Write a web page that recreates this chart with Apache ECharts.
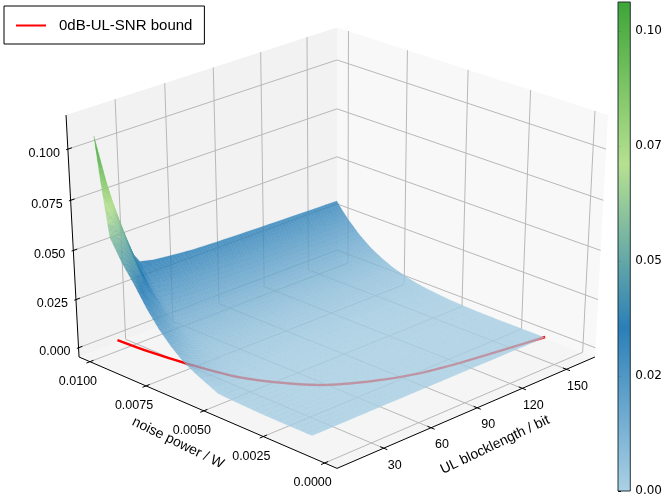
<!DOCTYPE html>
<html><head><meta charset="utf-8">
<style>html,body{margin:0;padding:0;background:#fff}#c{width:665px;height:500px}</style>
<script src="https://cdn.jsdelivr.net/npm/echarts@6/dist/echarts.min.js"></script>
</head><body><div id="c"></div>
<script>
// ---------- values ----------
const blocklengths=[10,13,16,19,22,26,30,34,42,52,67,82,102,132,162];
const noisePowers=[0.0011,0.002,0.003,0.004,0.005,0.006,0.0065,0.007,0.0075,0.008,0.0085,0.009,0.0095,0.0098,0.01];
const surfaceValues=[
[0,0,0,0,0,0,0,0,0,0,0,0,0,0,0],
[0,0,0,0,0,0,0,0,0,0,0,0,0,0,0],
[0.0001,0.0002,0.0002,0.0001,0.0001,0.0001,0.0001,0.0001,0.0001,0.0001,0,0,0,0,0],
[0.0004,0.0007,0.0006,0.0005,0.0004,0.0004,0.0003,0.0003,0.0003,0.0003,0.0002,0.0002,0.0002,0.0002,0.0002],
[0.001,0.0022,0.0019,0.0017,0.0015,0.0012,0.001,0.0009,0.0008,0.0008,0.0008,0.0008,0.0008,0.0007,0.0007],
[0.0067,0.006,0.0052,0.0046,0.004,0.0033,0.0027,0.0023,0.0022,0.0022,0.0021,0.0021,0.002,0.002,0.002],
[0.0103,0.0092,0.008,0.007,0.0061,0.0051,0.0041,0.0036,0.0034,0.0033,0.0032,0.0032,0.0031,0.0031,0.003],
[0.0154,0.0137,0.0119,0.0105,0.0092,0.0076,0.0061,0.0054,0.0051,0.005,0.0048,0.0047,0.0047,0.0046,0.0045],
[0.0217,0.0197,0.0174,0.0152,0.0133,0.011,0.0089,0.0078,0.0074,0.0072,0.007,0.0069,0.0068,0.0066,0.0065],
[0.0297,0.0273,0.0242,0.0216,0.0189,0.0156,0.0126,0.011,0.0105,0.0102,0.0099,0.0097,0.0096,0.0094,0.0093],
[0.0392,0.0367,0.0328,0.0295,0.0262,0.0216,0.0175,0.0153,0.0146,0.0142,0.0137,0.0135,0.0133,0.0131,0.0128],
[0.0477,0.0461,0.0426,0.0389,0.0357,0.0294,0.0238,0.0208,0.0199,0.0194,0.0187,0.0184,0.0181,0.0178,0.0175],
[0.0583,0.0583,0.0558,0.0518,0.0478,0.0394,0.0318,0.0279,0.0267,0.0259,0.025,0.0246,0.0243,0.0238,0.0234],
[0.0848,0.078,0.0705,0.0634,0.0565,0.0466,0.0377,0.033,0.0316,0.0307,0.0296,0.0292,0.0287,0.0282,0.0277],
[0.106,0.094,0.082,0.072,0.063,0.052,0.042,0.0368,0.0352,0.0342,0.033,0.0325,0.032,0.0314,0.0309]
];
const boundLength=[19.7,21.1,24.2,29.5,37.8,50.5,70.5,90.2,113,137.8,162.6];
const boundNoise=[0.0101,0.00875,0.00729,0.00571,0.00456,0.00343,0.00253,0.00197,0.00162,0.00136,0.00112];
const boundName='0dB-UL-SNR bound';
const noiseTicks=[0.01,0.0075,0.005,0.0025,0];
const noiseTickLabels=['0.0100','0.0075','0.0050','0.0025','0.0000'];
const lengthTicks=[30,60,90,120,150];
const lengthTickLabels=['30','60','90','120','150'];
const heightTicks=[0,0.025,0.05,0.075,0.1];
const heightTickLabels=['0.000','0.025','0.050','0.075','0.100'];
const colorbarTicks=[0,0.025,0.05,0.075,0.1];
const colorbarLabels=['0.00','0.02','0.05','0.07','0.10'];
const colorbarMax=0.1063;
const colorStops=['#a6cee3','#1f78b4','#b2df8a','#33a02c'];
const noiseTitle='noise power / W', lengthTitle='UL blocklength / bit';

// ---------- 3D view ----------
const X0=337,Y0=239,A=264.3,B=120.9,G=99.2,P=0.065,Q=0.0246;
const uOf=n=>0.045+91*n, vOf=L=>(L+1)*0.005926-0.012, zOf=h=>-0.92+16.5*h;
function proj(u,v,z){const r=v-u,c=1-u-v,d=1-P*c-Q*z;return [X0+A*r/d,Y0-(B*z-G*c)/d,d];}
const font='"Liberation Sans",Arial,sans-serif';
const hex=s=>[1,3,5].map(i=>parseInt(s.substr(i,2),16));
const rgbStops=colorStops.map(hex);
function colorOf(h){
  let t=Math.max(0,Math.min(1,h/colorbarMax))*(rgbStops.length-1);
  let i=Math.min(rgbStops.length-2,Math.floor(t)),f=t-i;
  const m=[0,1,2].map(k=>Math.round(rgbStops[i][k]+(rgbStops[i+1][k]-rgbStops[i][k])*f));
  return 'rgb('+m.join(',')+')';
}
// surface tiles: each table cell is shaded with a few sub-quads, painted far to near
const SUB=4,tiles=[];
for(let i=0;i<noisePowers.length-1;i++)for(let j=0;j<blocklengths.length-1;j++){
  const corner=(a,b)=>{
    const n=noisePowers[i]+(noisePowers[i+1]-noisePowers[i])*a;
    const L=blocklengths[j]+(blocklengths[j+1]-blocklengths[j])*b;
    const h=(surfaceValues[i][j]*(1-a)+surfaceValues[i+1][j]*a)*(1-b)+(surfaceValues[i][j+1]*(1-a)+surfaceValues[i+1][j+1]*a)*b;
    return {p:proj(uOf(n),vOf(L),zOf(h)),h};
  };
  for(let a=0;a<SUB;a++)for(let b=0;b<SUB;b++){
    const q=[corner(a/SUB,b/SUB),corner((a+1)/SUB,b/SUB),corner((a+1)/SUB,(b+1)/SUB),corner(a/SUB,(b+1)/SUB)];
    tiles.push({pts:q.map(o=>o.p.slice(0,2)),h:(q[0].h+q[1].h+q[2].h+q[3].h)/4,d:(q[0].p[2]+q[2].p[2])/2});
  }
}
tiles.sort((x,y)=>y.d-x.d);

const pxy=(u,v,z)=>proj(u,v,z).slice(0,2);
const boundPoints=boundLength.map((L,i)=>pxy(uOf(boundNoise[i]),vOf(L),zOf(0)));
const chart=echarts.init(document.getElementById('c'),null,{renderer:'canvas'});

function seg(api,a,b,stroke,w){
  const p=api.coord(a),q=api.coord(b);
  return {type:'line',shape:{x1:p[0],y1:p[1],x2:q[0],y2:q[1]},style:{stroke,lineWidth:w}};
}
function poly(api,pts,fill){return {type:'polygon',shape:{points:pts.map(p=>api.coord(p))},style:{fill}};}

function renderBack(params,api){
  const ch=[];
  ch.push(poly(api,[pxy(0,0,-1),pxy(1,0,-1),pxy(1,1,-1),pxy(0,1,-1)],'#f5f5f5'));
  ch.push(poly(api,[pxy(1,0,-1),pxy(1,1,-1),pxy(1,1,1),pxy(1,0,1)],'#f2f2f2'));
  ch.push(poly(api,[pxy(0,1,-1),pxy(1,1,-1),pxy(1,1,1),pxy(0,1,1)],'#f8f8f8'));
  const gc='#b8b8b8',gw=1;
  lengthTicks.forEach(L=>{const v=vOf(L);
    ch.push(seg(api,pxy(0,v,-1),pxy(1,v,-1),gc,gw));
    ch.push(seg(api,pxy(1,v,-1),pxy(1,v,1),gc,gw));});
  noiseTicks.forEach(n=>{const u=uOf(n);
    ch.push(seg(api,pxy(u,0,-1),pxy(u,1,-1),gc,gw));
    ch.push(seg(api,pxy(u,1,-1),pxy(u,1,1),gc,gw));});
  heightTicks.forEach(h=>{const z=zOf(h);
    ch.push(seg(api,pxy(1,0,z),pxy(1,1,z),gc,gw));
    ch.push(seg(api,pxy(0,1,z),pxy(1,1,z),gc,gw));});
  return {type:'group',children:ch};
}
function renderTile(params,api){
  const t=tiles[params.dataIndex],c=colorOf(t.h);
  return {type:'polygon',shape:{points:t.pts.map(p=>api.coord(p))},style:{fill:c,opacity:0.8,stroke:c,lineWidth:0.25}};
}
function label(api,pt,dx,dy,text,align){
  const p=api.coord(pt);
  return {type:'text',x:p[0]+dx,y:p[1]+dy,style:{text,fill:'#000',font:'12.5px '+font,textAlign:align||'center',textVerticalAlign:'middle'}};
}
function renderAxes(params,api){
  const ch=[],k='#000';
  ch.push(seg(api,pxy(1,0,-1),pxy(1,0,1),k,1));
  ch.push(seg(api,pxy(1,0,-1),pxy(0,0,-1),k,1));
  ch.push(seg(api,pxy(0,0,-1),pxy(0,1,-1),k,1));
  noiseTicks.forEach((n,i)=>{const u=uOf(n);
    ch.push(seg(api,pxy(u,-0.013,-1),pxy(u,0.013,-1),k,1));
    ch.push(label(api,pxy(u,0,-1),-12,20,noiseTickLabels[i]));});
  lengthTicks.forEach((L,i)=>{const v=vOf(L);
    ch.push(seg(api,pxy(-0.013,v,-1),pxy(0.013,v,-1),k,1));
    ch.push(label(api,pxy(0,v,-1),11,17,lengthTickLabels[i]));});
  heightTicks.forEach((h,i)=>{const z=zOf(h);
    ch.push(seg(api,pxy(1,-0.006,z),pxy(1,0.014,z),k,1));
    ch.push(label(api,pxy(1,0,z),-8,4,heightTickLabels[i],'right'));});
  const a=api.coord([178,443]),b=api.coord([495,445]);
  ch.push({type:'text',x:a[0],y:a[1],rotation:-26*Math.PI/180,style:{text:noiseTitle,fill:'#000',font:'14px '+font,textAlign:'center',textVerticalAlign:'middle'}});
  ch.push({type:'text',x:b[0],y:b[1],rotation:25.5*Math.PI/180,style:{text:lengthTitle,fill:'#000',font:'14px '+font,textAlign:'center',textVerticalAlign:'middle'}});
  return {type:'group',children:ch};
}
function renderBar(params,api){
  const p=api.coord([0,colorbarMax]),q=api.coord([1,0]);
  const n=rgbStops.length-1;
  return {type:'rect',shape:{x:p[0],y:p[1],width:q[0]-p[0],height:q[1]-p[1]},
    style:{fill:new echarts.graphic.LinearGradient(0,1,0,0,colorStops.map((c,i)=>({offset:i/n,color:c}))),stroke:'#1a2a30',lineWidth:1,opacity:0.95}};
}
chart.setOption({
  animation:false,
  grid:[{left:0,top:0,width:665,height:500,show:false},{left:618,top:2,width:14,height:489,show:false}],
  xAxis:[{type:'value',gridIndex:0,min:0,max:665,show:false},{type:'value',gridIndex:1,min:0,max:1,show:false}],
  yAxis:[{type:'value',gridIndex:0,min:0,max:500,inverse:true,show:false},
    {type:'value',gridIndex:1,min:0,max:colorbarMax,position:'right',splitLine:{show:false},
     axisLine:{show:false},
     axisTick:{show:true,length:3,lineStyle:{color:'#000',width:1},customValues:colorbarTicks},
     axisLabel:{show:true,margin:5,color:'#000',fontSize:12,fontFamily:'"DejaVu Sans"',customValues:colorbarTicks,
       formatter:v=>{const i=colorbarTicks.findIndex(t=>Math.abs(t-v)<1e-6);return i<0?'':colorbarLabels[i];}}}],
  legend:{show:true,left:4,top:6,data:[{name:boundName,icon:'rect'}],orient:'horizontal',padding:[12,12,11,12],borderColor:'#000',borderWidth:1,borderRadius:0,backgroundColor:'#fff',
    itemWidth:30,itemHeight:2,itemStyle:{color:'#ff0000',borderWidth:0},lineStyle:{width:0},textStyle:{fontFamily:font,fontSize:15,color:'#000',padding:[0,0,0,8]},selectedMode:false},
  series:[
    {type:'custom',xAxisIndex:0,yAxisIndex:0,z:1,silent:true,clip:false,renderItem:renderBack,data:[[0,0]],animation:false},
    {type:'line',name:boundName,xAxisIndex:0,yAxisIndex:0,z:2,silent:true,showSymbol:false,symbol:'none',smooth:0.3,
      lineStyle:{color:'#ff0000',width:2.4},itemStyle:{color:'#ff0000'},data:boundPoints,animation:false},
    {type:'custom',xAxisIndex:0,yAxisIndex:0,z:3,silent:true,clip:false,renderItem:renderTile,progressive:0,data:tiles.map((t,i)=>[i,t.h]),animation:false},
    {type:'line',xAxisIndex:0,yAxisIndex:0,z:4,silent:true,showSymbol:false,symbol:'none',smooth:0.3,
      lineStyle:{color:'#ff0000',width:2,opacity:0.1},data:boundPoints,animation:false},
    {type:'custom',xAxisIndex:0,yAxisIndex:0,z:4,silent:true,clip:false,renderItem:renderAxes,data:[[0,0]],animation:false},
    {type:'custom',xAxisIndex:1,yAxisIndex:1,z:4,silent:true,clip:false,renderItem:renderBar,data:[[0,0]],animation:false}
  ]
});
</script></body></html>
